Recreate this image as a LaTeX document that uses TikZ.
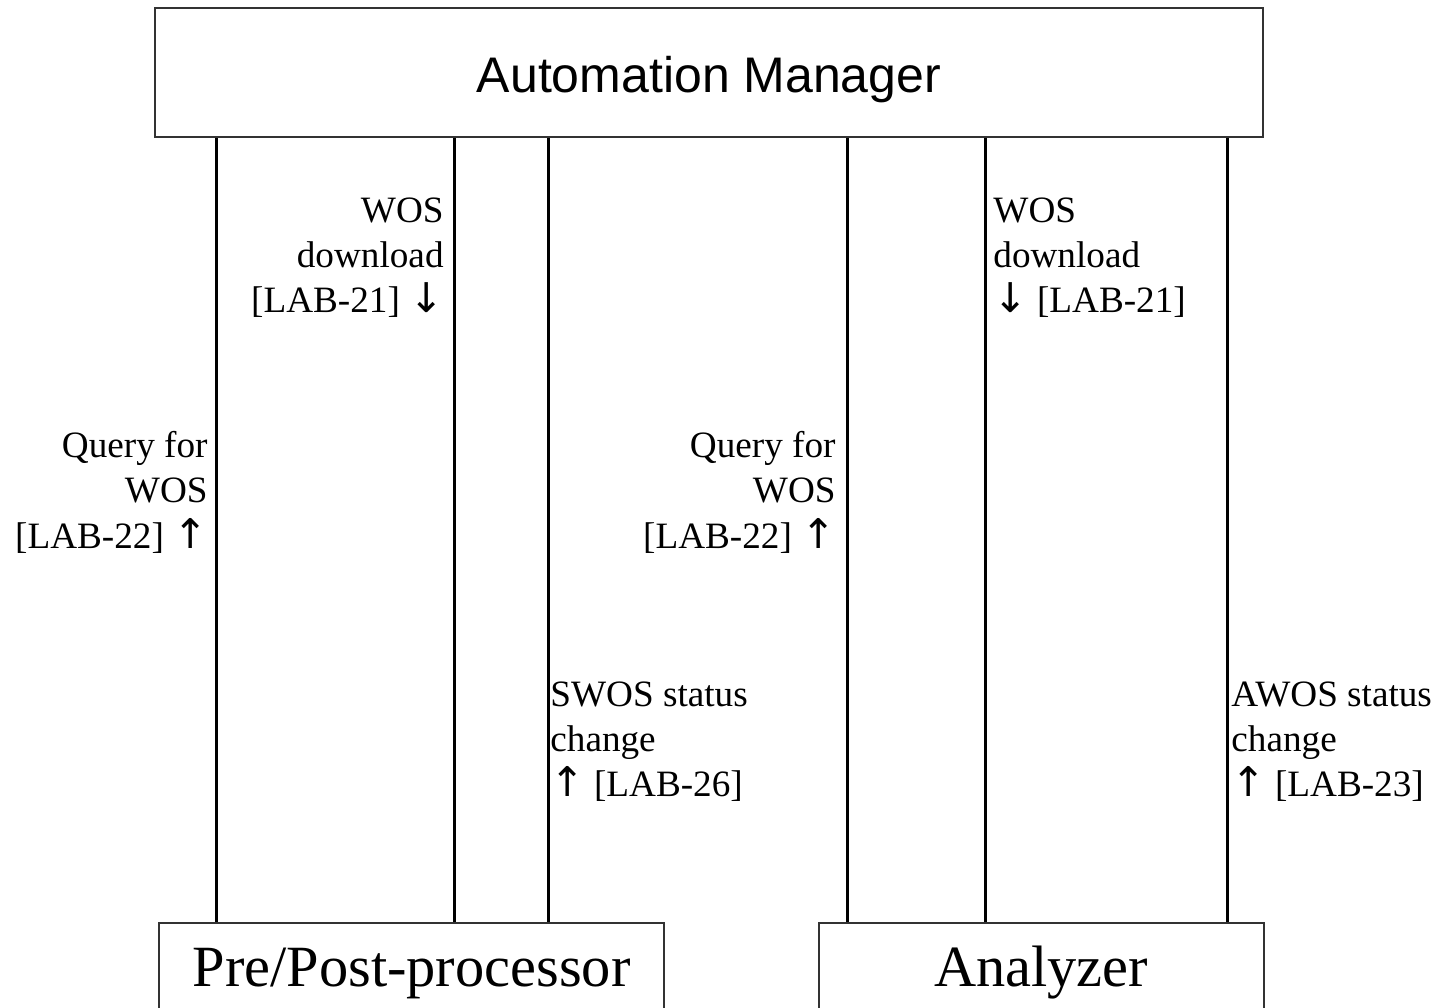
\documentclass[tikz,border=0pt]{standalone}
\usepackage{fontspec}
\setmainfont{Liberation Serif}
\newfontfamily\arialfont{Liberation Sans}
\newfontfamily\arrowfont{DejaVu Sans}
\newcommand{\upar}{{\arrowfont\fontsize{20.5}{22.6}\selectfont ↑}}
\newcommand{\dnar}{{\arrowfont\fontsize{20.5}{22.6}\selectfont ↓}}
\begin{document}
\begin{tikzpicture}[x=0.5pt,y=-0.5pt,
  boxst/.style={draw=black!80,line width=1pt,fill=white,inner sep=0pt},
  linkst/.style={line width=1.5pt},
  lab/.style={inner sep=0pt,font=\fontsize{18.6}{22.6}\selectfont},
  labr/.style={lab,align=right},
  labl/.style={lab,align=left}]
\useasboundingbox (0,0) rectangle (1445,1007);
\node[boxst,minimum width=554pt,minimum height=64.5pt,font=\arialfont\fontsize{25}{30}\selectfont] (am) at (709,72.5) {\raisebox{-3.5pt}[\height][\depth]{Automation Manager}};
\node[boxst,minimum width=252.5pt,minimum height=46pt,font=\fontsize{29.2}{35}\selectfont] (pp) at (411.5,969) {\raisebox{-2pt}[\height][\depth]{Pre/Post-processor}};
\node[boxst,minimum width=222.5pt,minimum height=46pt,font=\fontsize{29.2}{35}\selectfont] (an) at (1041,969) {\raisebox{-2pt}[\height][\depth]{Analyzer}};
% connectors
\foreach \xx in {216,454,548}{
  \draw[linkst] (am.south -| \xx,0) -- (pp.north -| \xx,0);
}
\foreach \xx in {847,985,1227}{
  \draw[linkst] (am.south -| \xx,0) -- (an.north -| \xx,0);
}
% labels
\node[labr,anchor=north east] (l1) at (444,197) {WOS\\download\\{}[LAB-21] \dnar};
\node[labr,anchor=north east] (l2) at (208,431) {Query for\\WOS\\{}[LAB-22] \upar};
\node[labr,anchor=north east] (l3) at (836,431) {Query for\\WOS\\{}[LAB-22] \upar};
\node[labl,anchor=north west] (l4) at (993,197) {WOS\\download\\\dnar{} [LAB-21]};
\node[labl,anchor=north west] (l5) at (550,681) {SWOS status\\change\\\upar{} [LAB-26]};
\node[labl,anchor=north west] (l6) at (1231,681) {AWOS status\\change\\\upar{} [LAB-23]};
\end{tikzpicture}
\end{document}
